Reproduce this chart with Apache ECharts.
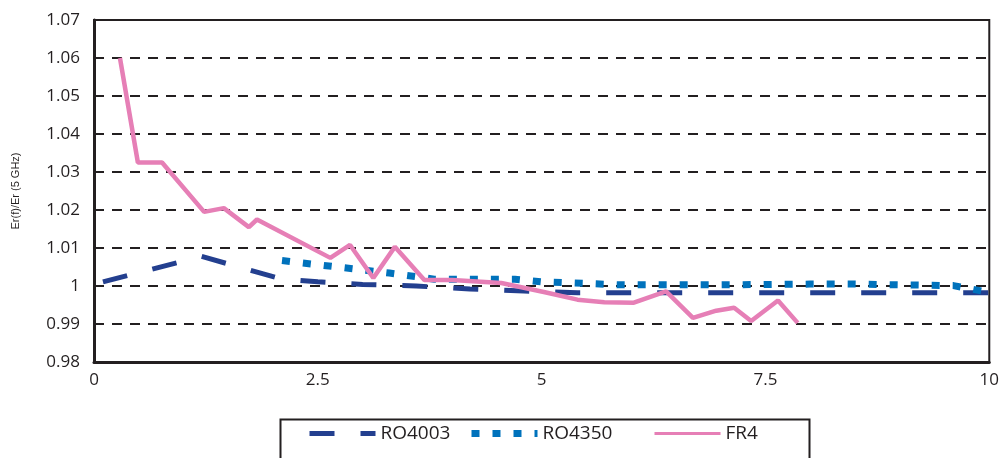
<!DOCTYPE html>
<html>
<head>
<meta charset="utf-8">
<script src="https://cdn.jsdelivr.net/npm/echarts@6/dist/echarts.min.js"></script>
<style>
html,body{margin:0;padding:0;background:#fff;}
#chart{width:1002px;height:458px;}
</style>
</head>
<body>
<div id="chart"></div>
<script>
// ---- data ----
var seriesNames = ['RO4003', 'RO4350', 'FR4'];
var xTicks = [0, 2.5, 5, 7.5, 10];
var yTicks = [0.98, 0.99, 1, 1.01, 1.02, 1.03, 1.04, 1.05, 1.06, 1.07];

var ro4003X = [0.1, 1.2, 2.1, 2.5, 3.0, 3.6, 4.2, 4.8, 5.4, 6, 7, 8, 9, 10];
var ro4003Y = [1.0011, 1.0078, 1.0018, 1.0011, 1.0004, 1.0000, 0.9992, 0.9987, 0.9982, 0.9982, 0.9982, 0.9982, 0.9982, 0.9982];

var ro4350X = [2.1, 3.3, 3.8, 4.7, 5.0, 5.9, 7, 8, 8.5, 9.6, 10];
var ro4350Y = [1.0067, 1.0034, 1.0018, 1.0018, 1.0011, 1.0003, 1.0003, 1.0005, 1.0005, 1.0001, 0.9983];

var fr4X = [0.29, 0.49, 0.76, 1.23, 1.45, 1.73, 1.82, 2.64, 2.86, 3.12, 3.36, 3.69, 4.0, 4.55, 5.05, 5.4, 5.7, 6.03, 6.39, 6.69, 6.95, 7.15, 7.34, 7.64, 7.86];
var fr4Y = [1.060, 1.0325, 1.0325, 1.0195, 1.0205, 1.0155, 1.0175, 1.0074, 1.0108, 1.0021, 1.0103, 1.0016, 1.0016, 1.0008, 0.9983, 0.9964, 0.9957, 0.9956, 0.9986, 0.9916, 0.9935, 0.9943, 0.9908, 0.9962, 0.9903];

function pairs(xs, ys) { return xs.map(function (x, i) { return [x, ys[i]]; }); }

var chart = echarts.init(document.getElementById('chart'), null, {renderer: 'canvas'});
var tickFont = '"Open Sans", "Noto Sans", sans-serif';
var legendLefts = [307, 468, 653];

function makeLegend(name, i, extra) {
  var l = {
    data: [Object.assign({name: name}, extra || {})],
    left: legendLefts[i], top: 424,
    orient: 'horizontal',
    itemWidth: 66, itemHeight: 14, itemGap: 0,
    padding: 0,
    itemStyle: {opacity: 0},
    lineStyle: {width: 'inherit', type: 'inherit', cap: 'butt'},
    textStyle: {fontFamily: tickFont, fontSize: 19, color: '#231f20', padding: [14, 0, 0, 0]}
  };
  return l;
}

chart.setOption({
  animation: false,
  backgroundColor: '#fff',
  grid: {
    left: 94, right: 12, top: 20, bottom: 96,
    show: true, borderColor: '#231f20', borderWidth: 2, backgroundColor: 'transparent'
  },
  graphic: [{
    type: 'rect', left: 278, top: 417, silent: true,
    shape: {width: 529, height: 60},
    style: {fill: 'none', stroke: '#231f20', lineWidth: 2}
  }],
  legend: [
    makeLegend(seriesNames[0], 0),
    makeLegend(seriesNames[1], 1),
    makeLegend(seriesNames[2], 2, {lineStyle: {width: 3}})
  ],
  xAxis: {
    type: 'value', min: 0, max: 10, interval: 2.5,
    axisLine: {show: true, lineStyle: {color: '#231f20', width: 3}},
    axisTick: {show: false},
    splitLine: {show: false},
    axisLabel: {
      margin: 10, color: '#231f20', fontFamily: tickFont, fontSize: 17,
      formatter: function (v) { return xTicks.indexOf(v) >= 0 ? String(v) : ''; }
    }
  },
  yAxis: {
    type: 'value', min: 0.98, max: 1.07, interval: 0.01,
    name: 'Er(f)/Er (5 GHz)',
    nameLocation: 'middle', nameGap: 73, nameRotate: 90,
    nameTextStyle: {fontFamily: '"Liberation Sans", Arial, sans-serif', fontSize: 11, color: '#231f20'},
    axisLine: {show: true, lineStyle: {color: '#231f20', width: 3}},
    axisTick: {show: false},
    splitLine: {show: true, lineStyle: {color: '#231f20', width: 2, type: [10, 8]}},
    axisLabel: {
      margin: 14, color: '#231f20', fontFamily: tickFont, fontSize: 17,
      formatter: function (v) {
        var r = Math.round(v * 100) / 100;
        return String(r);
      }
    }
  },
  series: [
    {
      name: 'RO4003', type: 'line', data: pairs(ro4003X, ro4003Y),
      symbol: 'none', smooth: false, z: 3,
      lineStyle: {color: '#233f8f', width: 5, type: [25, 26], cap: 'butt'},
      itemStyle: {color: '#233f8f'}
    },
    {
      name: 'RO4350', type: 'line', data: pairs(ro4350X, ro4350Y),
      symbol: 'none', smooth: false, z: 4,
      lineStyle: {color: '#0072bc', width: 7, type: [8, 13], cap: 'butt'},
      itemStyle: {color: '#0072bc'}
    },
    {
      name: 'FR4', type: 'line', data: pairs(fr4X, fr4Y),
      symbol: 'none', smooth: false, z: 5,
      lineStyle: {color: '#e67fb6', width: 4.5, type: 'solid'},
      itemStyle: {color: '#e67fb6'}
    }
  ]
});
</script>
</body>
</html>
